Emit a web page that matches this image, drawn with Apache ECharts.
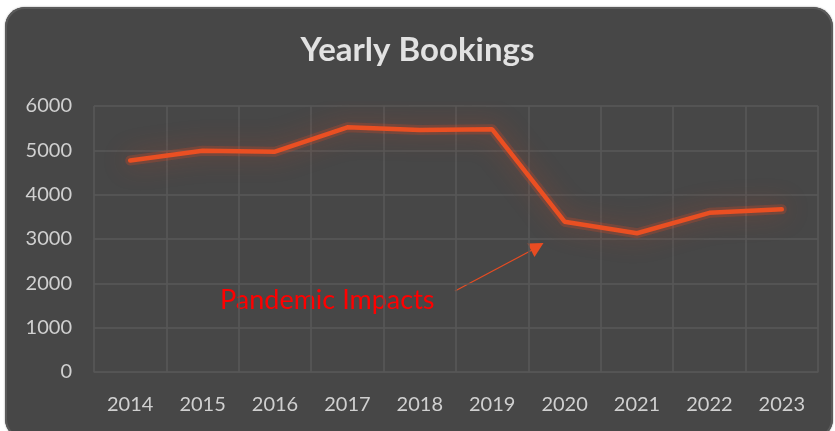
<!DOCTYPE html>
<html>
<head>
<meta charset="utf-8">
<script src="https://cdn.jsdelivr.net/npm/echarts@6/dist/echarts.min.js"></script>
<style>
  html, body { margin: 0; padding: 0; background: #ffffff; }
  #frame {
    position: absolute; left: 5px; top: 7px; width: 828px; height: 432px;
    background: #474747; border-radius: 20px;
    box-shadow: inset 0 0 0 2px #5a5a5a, 0 0 2px #999;
  }
  #container { position: absolute; left: 0; top: 0; width: 835px; height: 431px; }
</style>
</head>
<body>
<div id="frame"></div>
<div id="container"></div>
<script>
// yearly bookings data
var years = ['2014', '2015', '2016', '2017', '2018', '2019', '2020', '2021', '2022', '2023']
var bookings = [4770, 4990, 4970, 5520, 5460, 5475, 3390, 3130, 3590, 3670]
var yTicks = { min: 0, max: 6000, interval: 1000 }

var dom = document.getElementById('container')
var myChart = echarts.init(dom, null, { renderer: 'canvas' })

var labelFont = 'Lato, "Open Sans", sans-serif'

var option = {
  backgroundColor: 'transparent',
  title: {
    text: 'Yearly Bookings',
    left: 'center',
    top: 29,
    textStyle: { color: '#e2e2e2', fontSize: 33, fontWeight: 'bold', fontFamily: labelFont }
  },
  grid: { left: 94, right: 17, top: 106, bottom: 59 },
  xAxis: {
    type: 'category',
    data: years,
    boundaryGap: true,
    axisLine: { show: true, lineStyle: { color: '#555555' } },
    axisTick: { show: false },
    axisLabel: { color: '#d0d0d0', fontSize: 20, margin: 23, fontFamily: labelFont },
    splitLine: { show: true, interval: 0, lineStyle: { color: '#585858', width: 1.5 } }
  },
  yAxis: {
    type: 'value',
    min: yTicks.min,
    max: yTicks.max,
    interval: yTicks.interval,
    axisLine: { show: false },
    axisTick: { show: false },
    axisLabel: {
      color: '#d0d0d0', fontSize: 20, margin: 22, fontFamily: labelFont,
      formatter: function (v) { return String(v) }
    },
    splitLine: { show: true, lineStyle: { color: '#585858', width: 1.5 } }
  },
  series: [
    // soft glow under the line
    {
      type: 'line',
      data: bookings,
      symbol: 'none',
      silent: true,
      lineStyle: {
        color: 'rgba(225, 75, 40, 0.25)',
        width: 10,
        cap: 'round',
        join: 'round',
        shadowColor: 'rgba(230, 70, 30, 1)',
        shadowBlur: 26
      }
    },
    {
      type: 'line',
      data: bookings,
      symbol: 'none',
      lineStyle: {
        color: '#ea4f22',
        width: 4.5,
        cap: 'round'
      }
    }
  ],
  graphic: [
    {
      type: 'text',
      left: 220,
      top: 287,
      style: { text: 'Pandemic Impacts', fill: '#ff0000', fontSize: 27, fontFamily: labelFont }
    },
    {
      type: 'line',
      shape: { x1: 455, y1: 291, x2: 534, y2: 249 },
      style: { stroke: '#e84c22', lineWidth: 1.2 }
    },
    {
      type: 'polygon',
      shape: { points: [[527.5, 243.5], [543.5, 243], [534.5, 257]] },
      style: { fill: '#e84c22' }
    }
  ]
}

myChart.setOption(option)
</script>
</body>
</html>
